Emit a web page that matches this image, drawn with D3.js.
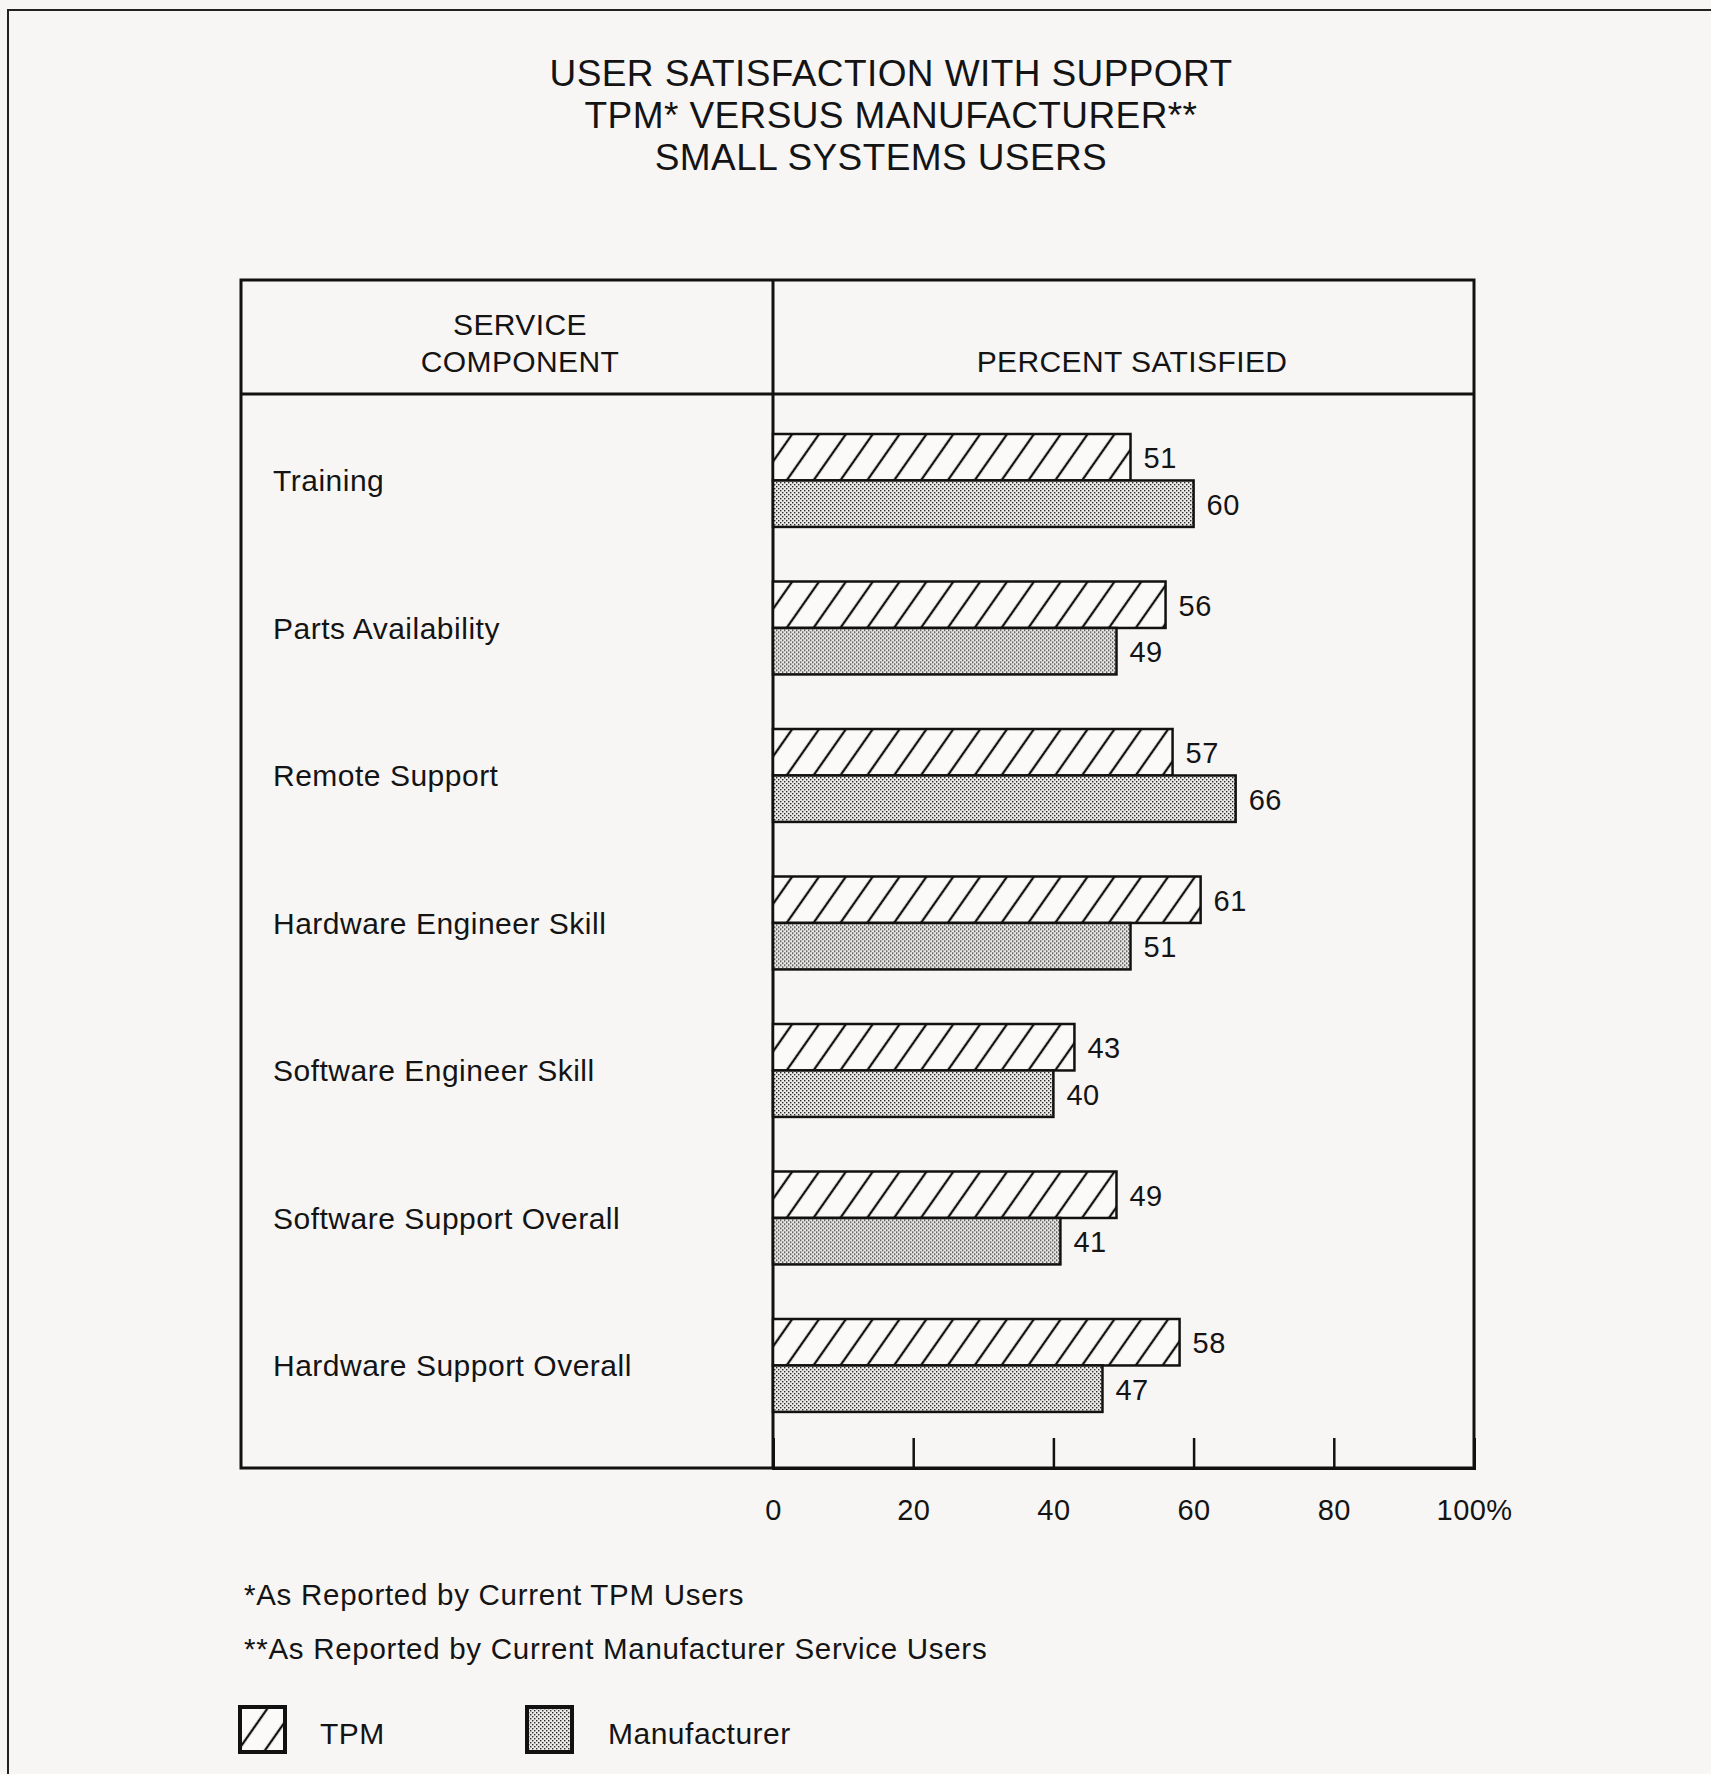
<!DOCTYPE html>
<html>
<head>
<meta charset="utf-8">
<script src="https://cdn.jsdelivr.net/npm/d3@7"></script>
<style>
  html, body { margin: 0; padding: 0; background: #f8f6f5; }
  svg { display: block; }
  text { font-family: "Liberation Sans", Arial, Helvetica, sans-serif; fill: #141414; }
</style>
</head>
<body>
<svg id="chart" width="1711" height="1774"></svg>
<script>
// ---- data ----
const titleLines = ["USER SATISFACTION WITH SUPPORT", "TPM* VERSUS MANUFACTURER**", "SMALL SYSTEMS USERS"];
const categories = ["Training", "Parts Availability", "Remote Support", "Hardware Engineer Skill",
                    "Software Engineer Skill", "Software Support Overall", "Hardware Support Overall"];
const seriesNames = ["TPM", "Manufacturer"];
const tpmValues = [51, 56, 57, 61, 43, 49, 58];
const manufacturerValues = [60, 49, 66, 51, 40, 41, 47];
const tickValues = [0, 20, 40, 60, 80, 100];
const tickLabels = ["0", "20", "40", "60", "80", "100%"];
const footnotes = ["*As Reported by Current TPM Users", "**As Reported by Current Manufacturer Service Users"];

const rows = categories.map((c, i) => ({ category: c, TPM: tpmValues[i], Manufacturer: manufacturerValues[i] }));

// ---- layout ----
const svg = d3.select("#chart");
const W = 1711, H = 1774;
const table = { left: 241, right: 1474, top: 280, headerBottom: 394, bottom: 1468, divider: 773 };

// fill patterns: diagonal hatching and a fine dot screen
const defs = svg.append("defs");
const hatch = defs.append("pattern")
  .attr("id", "hatch").attr("patternUnits", "userSpaceOnUse")
  .attr("width", 22).attr("height", 20)
  .attr("patternTransform", "rotate(35)");
hatch.append("rect").attr("width", 22).attr("height", 20).attr("fill", "#fbfaf9");
hatch.append("line")
  .attr("x1", 11).attr("y1", -1).attr("x2", 11).attr("y2", 21)
  .attr("stroke", "#111").attr("stroke-width", 2.3);
const dots = defs.append("pattern")
  .attr("id", "dots").attr("patternUnits", "userSpaceOnUse")
  .attr("width", 4).attr("height", 4);
dots.append("rect").attr("width", 4).attr("height", 4).attr("fill", "#eceae9");
dots.append("rect").attr("x", 0).attr("y", 0).attr("width", 1.4).attr("height", 1.4).attr("fill", "#2a2a2a");
dots.append("rect").attr("x", 2).attr("y", 2).attr("width", 1.4).attr("height", 1.4).attr("fill", "#2a2a2a");
const fills = { TPM: "url(#hatch)", Manufacturer: "url(#dots)" };

// page frame
svg.append("path")
  .attr("d", `M8,${H} V10 H${W}`)
  .attr("fill", "none").attr("stroke", "#222").attr("stroke-width", 2);

// title
const titleX = [891, 891, 881];
svg.append("g").selectAll("text").data(titleLines).join("text")
  .attr("x", (d, i) => titleX[i]).attr("y", (d, i) => 86 + i * 42)
  .attr("text-anchor", "middle")
  .style("font-size", "37px")
  .style("letter-spacing", "0.4px")
  .text(d => d);

// scales
const x = d3.scaleLinear().domain([0, 100]).range([table.divider, table.right]);
const y = d3.scaleBand().domain(categories).range([434, 434 + 147.5 * 6.63]).paddingInner(0.37).paddingOuter(0);
const ySub = d3.scaleBand().domain(seriesNames).range([0, y.bandwidth()]);

// table frame
const frame = svg.append("g").attr("stroke", "#111").attr("stroke-width", 3).attr("fill", "none");
frame.append("rect")
  .attr("x", table.left).attr("y", table.top)
  .attr("width", table.right - table.left).attr("height", table.bottom - table.top);
frame.append("line").attr("x1", table.left).attr("x2", table.right)
  .attr("y1", table.headerBottom).attr("y2", table.headerBottom);
frame.append("line").attr("x1", table.divider).attr("x2", table.divider)
  .attr("y1", table.top).attr("y2", table.bottom);

// column headers
const hdr = svg.append("g").style("font-size", "30px").style("letter-spacing", "0.4px").attr("text-anchor", "middle");
hdr.append("text").attr("x", 520).attr("y", 335).text("SERVICE");
hdr.append("text").attr("x", 520).attr("y", 372).text("COMPONENT");
hdr.append("text").attr("x", 1132).attr("y", 372).text("PERCENT SATISFIED");

// category labels
svg.append("g").selectAll("text").data(rows).join("text")
  .attr("x", 273)
  .attr("y", d => y(d.category) + y.bandwidth() / 2 + 11)
  .style("font-size", "30px")
  .style("letter-spacing", "0.5px")
  .text(d => d.category);

// bars
const groups = svg.append("g").selectAll("g").data(rows).join("g")
  .attr("transform", d => `translate(0,${y(d.category)})`);
const bars = groups.selectAll("g").data(d => seriesNames.map(k => ({ key: k, value: d[k] }))).join("g");
bars.append("rect")
  .attr("x", x(0))
  .attr("y", d => ySub(d.key))
  .attr("width", d => x(d.value) - x(0))
  .attr("height", ySub.bandwidth())
  .attr("fill", d => fills[d.key])
  .attr("stroke", "#111").attr("stroke-width", 2.5);
bars.append("text")
  .attr("x", d => x(d.value) + 13)
  .attr("y", d => ySub(d.key) + ySub.bandwidth() / 2 + 11)
  .style("font-size", "29px")
  .style("letter-spacing", "0.5px")
  .text(d => d.value);

// axis
const axis = d3.axisBottom(x)
  .tickValues(tickValues)
  .tickFormat((d, i) => tickLabels[i])
  .tickSize(-30)
  .tickPadding(31);
const gAxis = svg.append("g").attr("transform", `translate(0,${table.bottom})`).call(axis);
gAxis.select(".domain").attr("stroke", "#111").attr("stroke-width", 3);
gAxis.selectAll(".tick line").attr("stroke", "#111").attr("stroke-width", 2.5);
gAxis.selectAll(".tick text")
  .style("font-size", "29px")
  .style("letter-spacing", "0.4px")
  .style("font-family", "'Liberation Sans', Arial, Helvetica, sans-serif")
  .attr("fill", "#141414");

// footnotes
svg.append("g").selectAll("text").data(footnotes).join("text")
  .attr("x", 244).attr("y", (d, i) => 1605 + i * 54)
  .style("font-size", "29.5px")
  .style("letter-spacing", "0.72px")
  .text(d => d);

// legend
const legendItems = [
  { key: "TPM", box: 240, label: 320 },
  { key: "Manufacturer", box: 527, label: 608 }
];
const leg = svg.append("g").selectAll("g").data(legendItems).join("g");
leg.append("rect")
  .attr("x", d => d.box).attr("y", 1707)
  .attr("width", 45).attr("height", 45)
  .attr("fill", d => fills[d.key])
  .attr("stroke", "#111").attr("stroke-width", 4);
leg.append("text")
  .attr("x", d => d.label).attr("y", 1744)
  .style("font-size", "30px")
  .style("letter-spacing", "0.5px")
  .text(d => d.key);
</script>
</body>
</html>
